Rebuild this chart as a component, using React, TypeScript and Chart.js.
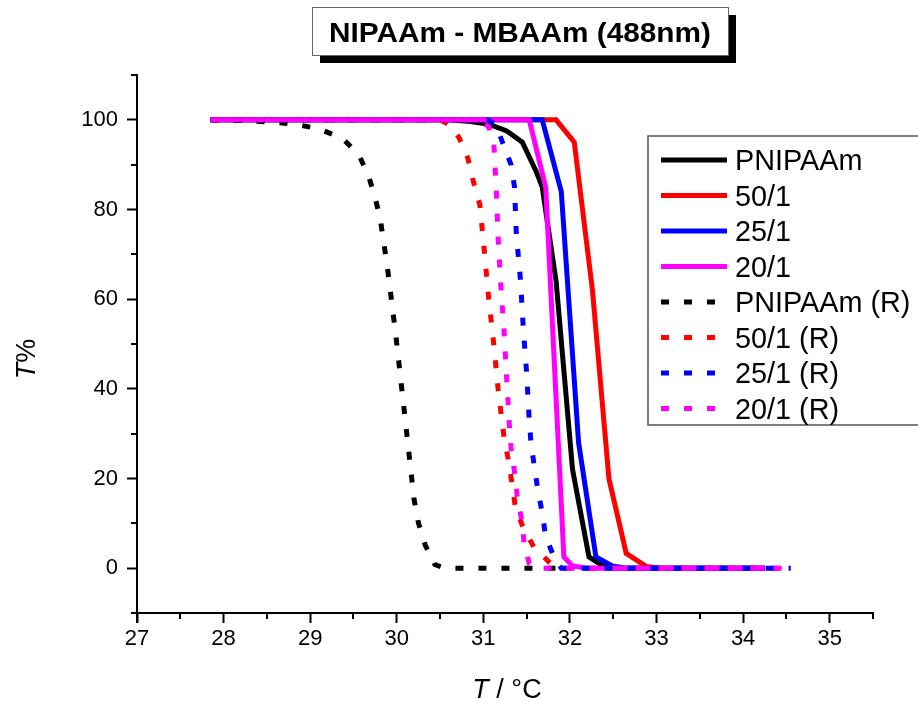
import React, { useEffect, useRef } from 'react';
import { Chart, registerables } from 'chart.js';

Chart.register(...registerables);

const FONT = "'Liberation Sans', Arial, Helvetica, sans-serif";

const titleText = 'NIPAAm - MBAAm (488nm)';
const xTicks = [27, 28, 29, 30, 31, 32, 33, 34, 35];
const yTicks = [0, 20, 40, 60, 80, 100];
const xMinor = [27.5, 28.5, 29.5, 30.5, 31.5, 32.5, 33.5, 34.5, 35.5];
const yMinor = [-10, 10, 30, 50, 70, 90, 110];

// Solid curves
const pnipaamT = [27.85, 30.6, 30.85, 31.07, 31.27, 31.45, 31.61, 31.68, 31.84, 32.03, 32.22, 32.37, 32.55, 34.25];
const pnipaamP = [100, 100, 99.6, 99, 97.5, 95, 88.5, 85, 64, 22, 2.5, 0.6, 0, 0];

const r50T = [27.85, 31.84, 32.05, 32.26, 32.45, 32.65, 32.88, 33.05, 34.25];
const r50P = [100, 100, 95, 62, 20, 3.3, 0.4, 0, 0];

const r25T = [27.85, 31.68, 31.9, 32.1, 32.3, 32.49, 32.65, 34.25];
const r25P = [100, 100, 84, 28, 2.5, 0.5, 0, 0];

const r20T = [27.85, 31.53, 31.72, 31.93, 32.03, 32.2, 34.25];
const r20P = [100, 100, 85, 2.5, 0.5, 0, 0];

// Dotted (R) curves
const pnipaamRT = [27.85, 28.28, 28.55, 28.83, 29.1, 29.37, 29.56, 29.67, 29.75, 29.81, 29.89, 29.99, 30.08, 30.17, 30.2, 30.25, 30.33, 30.44, 30.55, 31.85];
const pnipaamRP = [100, 99.8, 99.5, 99, 98, 95.9, 92.3, 87.7, 82.7, 77.8, 67.4, 51.8, 36.2, 20.5, 15.3, 10.1, 5.1, 0.8, 0, 0];

const r50RT = [27.85, 30.5, 30.62, 30.72, 30.82, 30.88, 30.96, 31.01, 31.06, 31.12, 31.17, 31.24, 31.29, 31.33, 31.37, 31.46, 31.59, 31.78, 31.9, 34.55];
const r50RP = [100, 100, 98.8, 96, 91.5, 86.6, 81, 71, 60.5, 50, 40, 29, 24, 19, 13.6, 9, 4.5, 1, 0, 0];

const r25RT = [27.85, 31.05, 31.15, 31.22, 31.32, 31.36, 31.38, 31.43, 31.46, 31.5, 31.53, 31.55, 31.59, 31.63, 31.68, 31.72, 31.82, 31.9, 34.55];
const r25RP = [100, 100, 98.8, 95, 90, 85, 74.8, 64, 53.8, 43.5, 33, 28, 22.5, 17.4, 12.3, 7, 2.3, 0, 0];

const r20RT = [27.85, 30.95, 31.06, 31.12, 31.15, 31.17, 31.2, 31.24, 31.27, 31.3, 31.32, 31.36, 31.39, 31.44, 31.47, 31.53, 31.6, 34.55];
const r20RP = [100, 100, 98.5, 95, 84, 74, 63.5, 52.7, 42, 32, 26.8, 21.4, 16.3, 11, 5.8, 1, 0, 0];

const seriesLabels = ['PNIPAAm', '50/1', '25/1', '20/1', 'PNIPAAm (R)', '50/1 (R)', '25/1 (R)', '20/1 (R)'];
const seriesColors = ['#000000', '#ff0000', '#0000ff', '#ff00ff', '#000000', '#ff0000', '#0000ff', '#ff00ff'];
const seriesDashed = [false, false, false, false, true, true, true, true];
const seriesT = [pnipaamT, r50T, r25T, r20T, pnipaamRT, r50RT, r25RT, r20RT];
const seriesP = [pnipaamP, r50P, r25P, r20P, pnipaamRP, r50RP, r25RP, r20RP];

const DASH = [8, 15];

const decorPlugin = {
  id: 'decor',
  afterDraw(chart: any) {
    const { ctx, chartArea, scales } = chart;
    const xs = scales.x;
    const ys = scales.y;
    const { left, right, top, bottom } = chartArea;
    ctx.save();
    ctx.strokeStyle = '#000';
    ctx.lineWidth = 2;
    ctx.setLineDash([]);
    // axis lines with stubs
    ctx.beginPath();
    ctx.moveTo(left, top);
    ctx.lineTo(left, bottom + 10);
    ctx.moveTo(left - 5, bottom);
    ctx.lineTo(right, bottom);
    ctx.stroke();
    // minor ticks
    ctx.beginPath();
    yMinor.forEach((v) => {
      const py = Math.round(ys.getPixelForValue(v));
      ctx.moveTo(left - 6, py);
      ctx.lineTo(left, py);
    });
    xMinor.forEach((v) => {
      const px = Math.round(xs.getPixelForValue(v));
      ctx.moveTo(px, bottom);
      ctx.lineTo(px, bottom + 6);
    });
    ctx.stroke();

    // legend box
    const lx = 648, ly = 136, lw = 300, lh = 289;
    ctx.fillStyle = '#fff';
    ctx.fillRect(lx, ly, lw, lh);
    ctx.strokeStyle = '#555';
    ctx.lineWidth = 1.5;
    ctx.strokeRect(lx, ly, lw, lh);
    chart.data.datasets.forEach((ds: any, i: number) => {
      const cy = 160 + i * 35.5;
      ctx.strokeStyle = ds.borderColor;
      ctx.lineWidth = 5;
      ctx.lineCap = 'butt';
      ctx.setLineDash(ds.borderDash || []);
      ctx.beginPath();
      ctx.moveTo(661, cy);
      ctx.lineTo(727, cy);
      ctx.stroke();
      ctx.setLineDash([]);
      ctx.fillStyle = '#000';
      ctx.font = `28.8px ${FONT}`;
      ctx.textAlign = 'left';
      ctx.textBaseline = 'alphabetic';
      ctx.fillText(ds.label, 735, cy + 10);
    });

    // title box with shadow
    const tx = 312, ty = 7, tw = 416, th = 48;
    ctx.fillStyle = '#000';
    ctx.fillRect(tx + 8, ty + 8, tw, th);
    ctx.fillStyle = '#fff';
    ctx.fillRect(tx, ty, tw, th);
    ctx.strokeStyle = '#666';
    ctx.lineWidth = 1;
    ctx.strokeRect(tx + 0.5, ty + 0.5, tw, th);
    ctx.fillStyle = '#000';
    ctx.font = `bold 27px ${FONT}`;
    ctx.textAlign = 'center';
    ctx.textBaseline = 'alphabetic';
    const mw = ctx.measureText(titleText).width;
    const sx = 382 / mw;
    ctx.save();
    ctx.translate(tx + tw / 2, 42);
    ctx.scale(sx, 1);
    ctx.fillText(titleText, 0, 0);
    ctx.restore();

    // axis titles with italic T
    const drawMixed = (cx: number, by: number, parts: [string, boolean][], size: number) => {
      let total = 0;
      const widths = parts.map(([t, it]) => {
        ctx.font = `${it ? 'italic ' : ''}${size}px ${FONT}`;
        const w = ctx.measureText(t).width;
        total += w;
        return w;
      });
      let x0 = cx - total / 2;
      ctx.textAlign = 'left';
      ctx.textBaseline = 'alphabetic';
      parts.forEach(([t, it], k) => {
        ctx.font = `${it ? 'italic ' : ''}${size}px ${FONT}`;
        ctx.fillText(t, x0, by);
        x0 += widths[k];
      });
    };
    ctx.fillStyle = '#000';
    drawMixed(507, 698, [['T', true], [' / °C', false]], 27);

    ctx.save();
    ctx.translate(35, 359);
    ctx.rotate(-Math.PI / 2);
    drawMixed(0, 0, [['T', true], ['%', false]], 27);
    ctx.restore();

    ctx.restore();
  },
};

export default function App() {
  const ref = useRef<HTMLCanvasElement | null>(null);
  useEffect(() => {
    document.body.style.margin = '0';
    const canvas = ref.current;
    if (!canvas) return;
    const datasets = seriesLabels.map((label, i) => ({
      label,
      data: seriesT[i].map((t, k) => ({ x: t, y: seriesP[i][k] })),
      borderColor: seriesColors[i],
      backgroundColor: seriesColors[i],
      borderWidth: 5,
      borderDash: seriesDashed[i] ? DASH : [],
      borderCapStyle: 'butt',
      borderJoinStyle: 'miter',
      pointRadius: 0,
      fill: false,
      tension: 0,
      order: seriesLabels.length - i,
    }));
    const chart = new Chart(canvas, {
      type: 'line',
      data: { datasets },
      options: {
        animation: false,
        responsive: false,
        devicePixelRatio: 1,
        layout: { padding: { left: 0, right: 45, top: 75, bottom: 0 } },
        plugins: { legend: { display: false }, tooltip: { enabled: false }, title: { display: false } },
        scales: {
          x: {
            type: 'linear',
            min: 27,
            max: 35.5,
            afterBuildTicks: (s: any) => {
              s.ticks = xTicks.map((v) => ({ value: v }));
            },
            afterFit: (s: any) => {
              s.height = 89;
            },
            grid: { display: true, drawOnChartArea: false, drawTicks: true, tickLength: 10, tickWidth: 2, tickColor: '#000' },
            border: { display: true, color: '#000', width: 2 },
            ticks: { color: '#000', font: { family: FONT, size: 22 }, padding: 3, maxRotation: 0, autoSkip: false },
          },
          y: {
            type: 'linear',
            min: -10,
            max: 110,
            afterBuildTicks: (s: any) => {
              s.ticks = yTicks.map((v) => ({ value: v }));
            },
            afterFit: (s: any) => {
              s.width = 137;
            },
            grid: { display: true, drawOnChartArea: false, drawTicks: true, tickLength: 10, tickWidth: 2, tickColor: '#000' },
            border: { display: true, color: '#000', width: 2 },
            ticks: { color: '#000', font: { family: FONT, size: 22 }, padding: 9, autoSkip: false },
          },
        },
      },
      plugins: [decorPlugin],
    } as any);
    return () => chart.destroy();
  }, []);
  return <canvas ref={ref} width={918} height={702} style={{ display: 'block' }} />;
}
